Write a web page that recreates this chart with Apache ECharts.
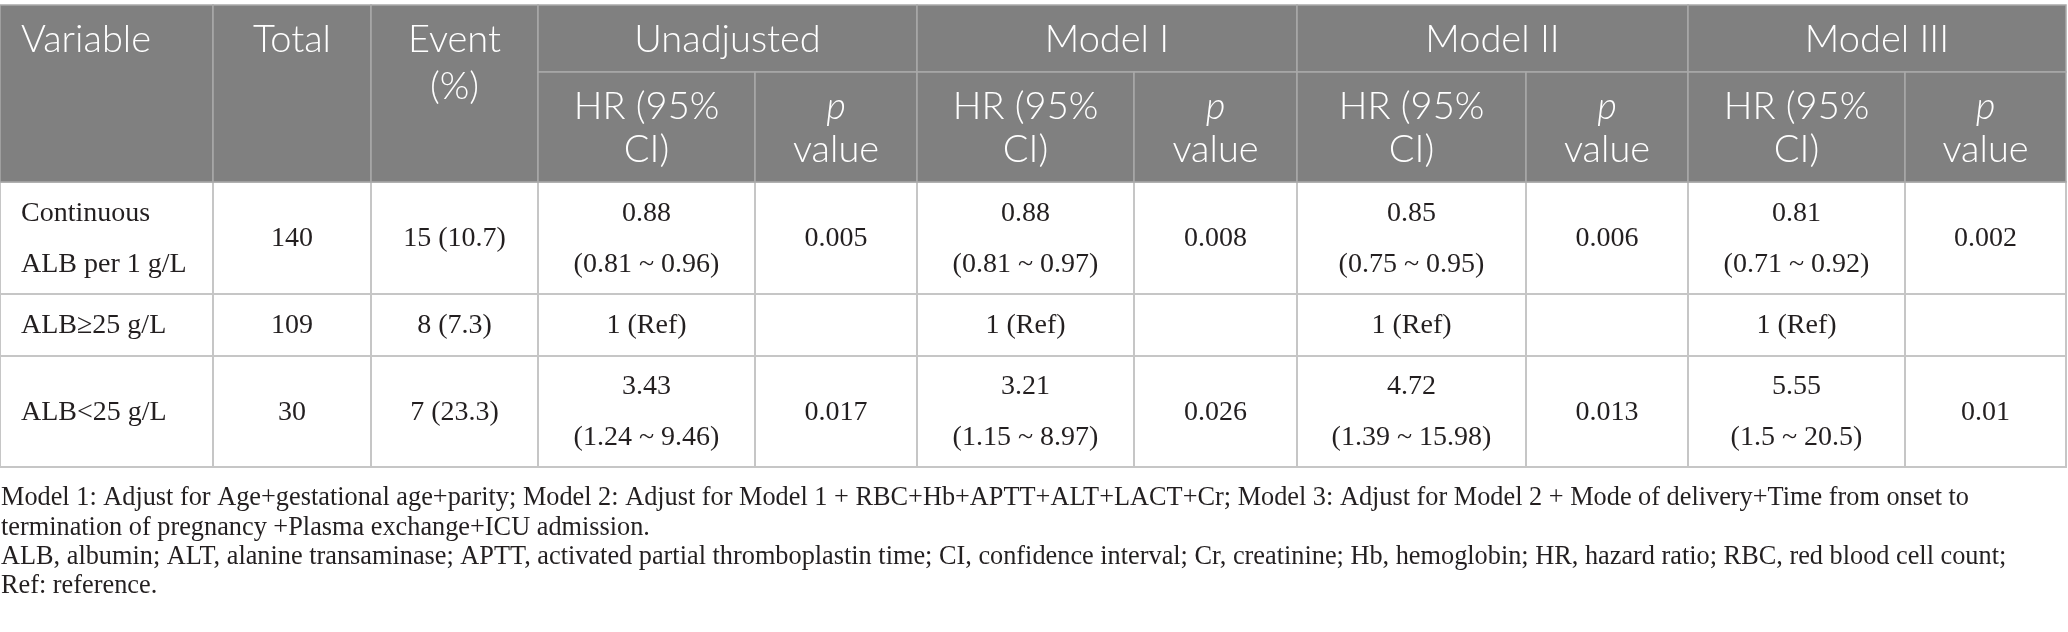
<!DOCTYPE html>
<html><head><meta charset="utf-8">
<script src="https://cdn.jsdelivr.net/npm/echarts@6/dist/echarts.min.js"></script>
<style>html,body{margin:0;padding:0;background:#fff}#c{width:2068px;height:632px}</style>
</head><body><div id="c"></div>
<script>
// ---------------- DATA ----------------
const fixedHeaders = ['Variable', 'Total', 'Event\n(%)'];
const modelNames = ['Unadjusted', 'Model I', 'Model II', 'Model III'];
const subHeaders = ['HR (95%\nCI)', 'p\nvalue'];
const variables = ['Continuous\nALB per 1 g/L', 'ALB≥25 g/L', 'ALB<25 g/L'];
const totals = [140, 109, 30];
const eventCounts = [15, 8, 7];
const eventPercents = [10.7, 7.3, 23.3];

const hrUnadjusted = [0.88, 1, 3.43];
const ciLowUnadjusted = [0.81, null, 1.24];
const ciHighUnadjusted = [0.96, null, 9.46];
const pUnadjusted = [0.005, null, 0.017];

const hrModel1 = [0.88, 1, 3.21];
const ciLowModel1 = [0.81, null, 1.15];
const ciHighModel1 = [0.97, null, 8.97];
const pModel1 = [0.008, null, 0.026];

const hrModel2 = [0.85, 1, 4.72];
const ciLowModel2 = [0.75, null, 1.39];
const ciHighModel2 = [0.95, null, 15.98];
const pModel2 = [0.006, null, 0.013];

const hrModel3 = [0.81, 1, 5.55];
const ciLowModel3 = [0.71, null, 1.5];
const ciHighModel3 = [0.92, null, 20.5];
const pModel3 = [0.002, null, 0.01];

const footnotes = [
  'Model 1: Adjust for Age+gestational age+parity; Model 2: Adjust for Model 1 + RBC+Hb+APTT+ALT+LACT+Cr; Model 3: Adjust for Model 2 + Mode of delivery+Time from onset to',
  'termination of pregnancy +Plasma exchange+ICU admission.',
  'ALB, albumin; ALT, alanine transaminase; APTT, activated partial thromboplastin time; CI, confidence interval; Cr, creatinine; Hb, hemoglobin; HR, hazard ratio; RBC, red blood cell count;',
  'Ref: reference.'
];

// ---------------- LAYOUT ----------------
const W = 2068, H = 632;
const COL_EDGES = [0, 213, 371, 538, 755, 917, 1134, 1297, 1526, 1688, 1905, 2066];
const HEAD_TOP = 5, HEAD_MID = 72, HEAD_BOTTOM = 182;
const ROW_EDGES = [182, 294, 356, 467];
const FOOT_Y = [498, 528, 557, 586];
const BODY_LH = 51, HEAD_LH = 47, SUB_LH = 43;
const HEAD_FONT = '300 38px Lato, "Open Sans", sans-serif';
const HEAD_FONT_IT = 'italic 300 38px Lato, "Open Sans", sans-serif';
const BODY_FONT = '28px "Liberation Serif", "DejaVu Serif", serif';
const FOOT_FONT = '26.3px "Liberation Serif", "DejaVu Serif", serif';

// ---------------- BUILD CELLS ----------------
const models = [
  [hrUnadjusted, ciLowUnadjusted, ciHighUnadjusted, pUnadjusted],
  [hrModel1, ciLowModel1, ciHighModel1, pModel1],
  [hrModel2, ciLowModel2, ciHighModel2, pModel2],
  [hrModel3, ciLowModel3, ciHighModel3, pModel3]
];
function hrText(hr, lo, hi) {
  if (lo == null) return hr + ' (Ref)';
  return hr + '\n(' + lo + ' ~ ' + hi + ')';
}
const cells = [];
fixedHeaders.forEach((t, i) => {
  cells.push({kind: 'head', x0: COL_EDGES[i], x1: COL_EDGES[i + 1], y0: HEAD_TOP, y1: HEAD_BOTTOM,
    lines: t.split('\n'), align: i === 0 ? 'left' : 'center', firstY: HEAD_TOP + 35, lh: HEAD_LH});
});
modelNames.forEach((t, m) => {
  const c0 = 3 + m * 2;
  cells.push({kind: 'head', x0: COL_EDGES[c0], x1: COL_EDGES[c0 + 2], y0: HEAD_TOP, y1: HEAD_MID,
    lines: [t], align: 'center', firstY: HEAD_TOP + 35, lh: HEAD_LH});
  subHeaders.forEach((s, k) => {
    cells.push({kind: 'head', x0: COL_EDGES[c0 + k], x1: COL_EDGES[c0 + k + 1], y0: HEAD_MID, y1: HEAD_BOTTOM,
      lines: s.split('\n'), italicFirst: k === 1, align: 'center', firstY: HEAD_MID + 35, lh: SUB_LH});
  });
});
variables.forEach((v, r) => {
  const y0 = ROW_EDGES[r], y1 = ROW_EDGES[r + 1];
  const row = [v, String(totals[r]), eventCounts[r] + ' (' + eventPercents[r] + ')'];
  models.forEach(([hr, lo, hi, p]) => {
    row.push(hrText(hr[r], lo[r], hi[r]));
    row.push(p[r] == null ? '' : String(p[r]));
  });
  row.forEach((t, c) => {
    const lines = t === '' ? [] : t.split('\n');
    const mid = (y0 + y1) / 2;
    cells.push({kind: 'body', x0: COL_EDGES[c], x1: COL_EDGES[c + 1], y0, y1, lines,
      align: c === 0 ? 'left' : 'center', firstY: mid - (lines.length - 1) * BODY_LH / 2 + 1, lh: BODY_LH});
  });
});
footnotes.forEach((t, i) => {
  cells.push({kind: 'foot', x0: 1, x1: W, y0: FOOT_Y[i] - 14, y1: FOOT_Y[i] + 14, lines: [t],
    align: 'left', firstY: FOOT_Y[i], lh: 29});
});

const seriesData = cells.map((c, i) => [c.x0, c.x1, c.y0, c.y1, i]);

function renderItem(params, api) {
  const c = cells[api.value(4)];
  const p0 = api.coord([api.value(0), api.value(2)]);
  const p1 = api.coord([api.value(1), api.value(3)]);
  const children = [];
  if (c.kind !== 'foot') {
    children.push({
      type: 'rect',
      shape: {x: p0[0], y: p0[1], width: p1[0] - p0[0], height: p1[1] - p0[1]},
      style: c.kind === 'head'
        ? {fill: '#808080', stroke: '#a9a9a9', lineWidth: 1.5}
        : {fill: '#ffffff', stroke: '#c6c6c6', lineWidth: 2},
      z2: c.kind === 'head' ? 1 : 0
    });
  }
  const pad = c.kind === 'foot' ? 0 : 21;
  c.lines.forEach((line, k) => {
    const pt = api.coord([c.align === 'left' ? c.x0 + pad : (c.x0 + c.x1) / 2, c.firstY + k * c.lh]);
    let font = c.kind === 'head' ? HEAD_FONT : (c.kind === 'body' ? BODY_FONT : FOOT_FONT);
    if (c.italicFirst && k === 0) font = HEAD_FONT_IT;
    children.push({
      type: 'text',
      z2: 5,
      style: {
        text: line, x: pt[0], y: pt[1], font: font,
        fill: c.kind === 'head' ? '#ffffff' : '#231f20',
        align: c.align, verticalAlign: 'middle'
      }
    });
  });
  return {type: 'group', children};
}

const chart = echarts.init(document.getElementById('c'), null, {renderer: 'canvas'});
chart.setOption({
  animation: false,
  backgroundColor: '#ffffff',
  grid: {left: 0, right: 0, top: 0, bottom: 0},
  xAxis: {type: 'value', min: 0, max: W, show: false},
  yAxis: {type: 'value', min: 0, max: H, inverse: true, show: false},
  series: [{
    type: 'custom',
    clip: false,
    renderItem: renderItem,
    data: seriesData,
    encode: {x: [0, 1], y: [2, 3]}
  }]
});
</script>
</body></html>
